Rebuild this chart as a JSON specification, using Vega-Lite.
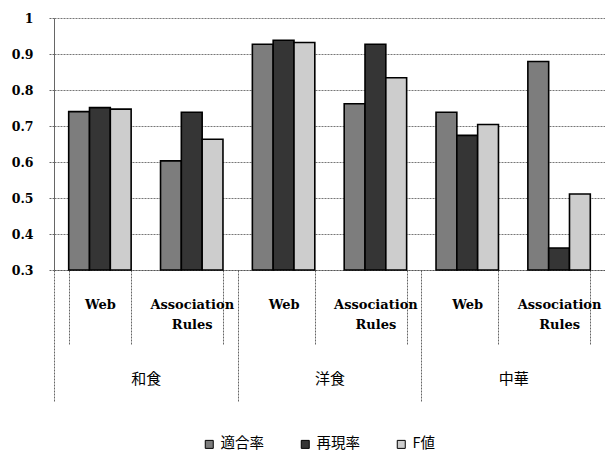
{
  "$schema": "https://vega.github.io/schema/vega-lite/v6.json",
  "width": 551,
  "height": 252,
  "autosize": {"type": "none"},
  "padding": {"left": 54, "top": 18, "right": 0, "bottom": 183},
  "background": "white",
  "config": {"view": {"stroke": null}},
  "data": {
    "values": [
      {"group": "和食", "method": "Web", "key": "和食|Web", "series": "適合率", "value": 0.740},
      {"group": "和食", "method": "Web", "key": "和食|Web", "series": "再現率", "value": 0.751},
      {"group": "和食", "method": "Web", "key": "和食|Web", "series": "F値", "value": 0.747},
      {"group": "和食", "method": "Association Rules", "key": "和食|Association Rules", "series": "適合率", "value": 0.603},
      {"group": "和食", "method": "Association Rules", "key": "和食|Association Rules", "series": "再現率", "value": 0.738},
      {"group": "和食", "method": "Association Rules", "key": "和食|Association Rules", "series": "F値", "value": 0.663},
      {"group": "洋食", "method": "Web", "key": "洋食|Web", "series": "適合率", "value": 0.927},
      {"group": "洋食", "method": "Web", "key": "洋食|Web", "series": "再現率", "value": 0.938},
      {"group": "洋食", "method": "Web", "key": "洋食|Web", "series": "F値", "value": 0.932},
      {"group": "洋食", "method": "Association Rules", "key": "洋食|Association Rules", "series": "適合率", "value": 0.762},
      {"group": "洋食", "method": "Association Rules", "key": "洋食|Association Rules", "series": "再現率", "value": 0.927},
      {"group": "洋食", "method": "Association Rules", "key": "洋食|Association Rules", "series": "F値", "value": 0.834},
      {"group": "中華", "method": "Web", "key": "中華|Web", "series": "適合率", "value": 0.738},
      {"group": "中華", "method": "Web", "key": "中華|Web", "series": "再現率", "value": 0.674},
      {"group": "中華", "method": "Web", "key": "中華|Web", "series": "F値", "value": 0.704},
      {"group": "中華", "method": "Association Rules", "key": "中華|Association Rules", "series": "適合率", "value": 0.879},
      {"group": "中華", "method": "Association Rules", "key": "中華|Association Rules", "series": "再現率", "value": 0.361},
      {"group": "中華", "method": "Association Rules", "key": "中華|Association Rules", "series": "F値", "value": 0.511}
    ]
  },
  "encoding": {
    "y": {
      "field": "value",
      "type": "quantitative",
      "scale": {"domain": [0.3, 1], "zero": false, "nice": false},
      "axis": {
        "title": null,
        "tickCount": 7,
        "labelExpr": "datum.value == 1 ? '1' : format(datum.value, '.1f')",
        "labelFont": "DejaVu Serif",
        "labelFontWeight": "bold",
        "labelFontSize": 12.5,
        "labelColor": "black",
        "labelPadding": 15,
        "labelOverlap": false,
        "labelFlush": false,
        "labelBound": false,
        "tickSize": 6,
        "tickColor": "#666666",
        "tickDash": [2, 1],
        "grid": true,
        "gridColor": "#777777",
        "gridDash": [2, 1],
        "domain": true,
        "domainColor": "#666666",
        "domainWidth": 1
      }
    }
  },
  "layer": [
    {
      "mark": {"type": "bar", "opacity": 0},
      "encoding": {
        "x": {
          "field": "group",
          "type": "nominal",
          "sort": null,
          "scale": {"paddingInner": 0, "paddingOuter": 0},
          "axis": {
            "orient": "bottom",
            "title": null,
            "labelAngle": 0,
            "labelExpr": "datum.label ? datum.label : ''",
            "labelFont": "Noto Sans CJK JP",
            "labelFontSize": 15,
            "labelColor": "black",
            "labelBaseline": "middle",
            "labelPadding": -24,
            "labelOverlap": false,
            "labelBound": false,
            "labelFlush": false,
            "tickBand": "extent",
            "tickSize": 132,
            "tickColor": "#666666",
            "tickDash": [2, 1],
            "domain": false,
            "grid": false
          }
        }
      }
    },
    {
      "mark": {"type": "bar", "stroke": "black", "strokeWidth": 1.6},
      "encoding": {
        "x": {
          "field": "key",
          "type": "nominal",
          "sort": null,
          "scale": {"paddingInner": 0.32, "paddingOuter": 0.16},
          "axis": {
            "orient": "bottom",
            "title": null,
            "labelAngle": 0,
            "labelExpr": "datum.label ? split(split(datum.label, '|')[1], ' ') : ''",
            "labelFont": "DejaVu Serif",
            "labelFontWeight": "bold",
            "labelFontSize": 13,
            "labelColor": "black",
            "labelBaseline": "top",
            "labelLineHeight": 20,
            "labelPadding": -46,
            "labelOverlap": false,
            "labelBound": false,
            "labelFlush": false,
            "tickBand": "extent",
            "tickSize": 74,
            "tickColor": "#666666",
            "tickDash": [2, 1],
            "domainColor": "#555555",
            "domainDash": [2, 1],
            "grid": false
          }
        },
        "xOffset": {"field": "series", "type": "nominal", "sort": ["適合率", "再現率", "F値"]},
        "y2": {"datum": 0.3},
        "color": {
          "field": "series",
          "type": "nominal",
          "sort": ["適合率", "再現率", "F値"],
          "scale": {"domain": ["適合率", "再現率", "F値"], "range": ["#7d7d7d", "#353535", "#cdcdcd"]},
          "legend": {
            "title": null,
            "orient": "none",
            "direction": "horizontal",
            "legendX": 148,
            "legendY": 419,
            "symbolType": "square",
            "symbolSize": 64,
            "symbolStrokeColor": "black",
            "symbolStrokeWidth": 1,
            "labelFont": "Noto Sans CJK JP",
            "labelFontSize": 14.5,
            "labelColor": "black",
            "labelOffset": 4,
            "columnPadding": 34
          }
        }
      }
    }
  ],
  "resolve": {"scale": {"x": "independent"}}
}
